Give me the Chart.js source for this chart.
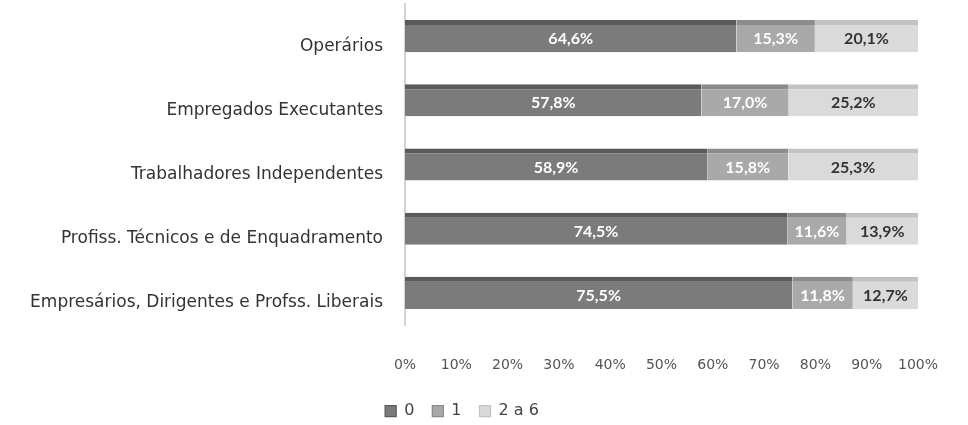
<!DOCTYPE html>
<html lang="pt">
<head>
<meta charset="UTF-8">
<title>Número de filhos por grupo socioprofissional</title>
<script src="https://cdn.jsdelivr.net/npm/chart.js"></script>
<style>
  html, body { margin: 0; padding: 0; background: #fff; }
  #wrap { width: 968px; height: 425px; }
</style>
</head>
<body>
<div id="wrap"><canvas id="grafico" width="968" height="425"></canvas></div>
<script>
const categorias = [
  "Operários",
  "Empregados Executantes",
  "Trabalhadores Independentes",
  "Profiss. Técnicos e de Enquadramento",
  "Empresários, Dirigentes e Profss. Liberais"
];
const serieNomes = ["0", "1", "2 a 6"];
const valores0 = [64.6, 57.8, 58.9, 74.5, 75.5];
const valores1 = [15.3, 17.0, 15.8, 11.6, 11.8];
const valores2 = [20.1, 25.2, 25.3, 13.9, 12.7];

const cores = ["#7b7b7b", "#a9a9a9", "#dadada"];
const coresTopo = ["#5a5a5a", "#8c8c8c", "#c2c2c2"];
const coresTexto = ["#ffffff", "#ffffff", "#333333"];

const fmt = v => v.toFixed(1).replace(".", ",") + "%";

// rótulos dentro das barras
const rotulos = {
  id: "rotulos",
  afterDatasetsDraw(chart) {
    const ctx = chart.ctx;
    ctx.save();
    ctx.font = "bold 16px Lato, 'Open Sans', sans-serif";
    ctx.textAlign = "center";
    ctx.textBaseline = "middle";
    chart.data.datasets.forEach((ds, i) => {
      chart.getDatasetMeta(i).data.forEach((bar, j) => {
        const x = (bar.x + bar.base) / 2;
        ctx.fillStyle = coresTexto[i];
        ctx.fillText(fmt(ds.data[j]), x, bar.y + 3);
      });
    });
    ctx.restore();
  }
};

const series = [valores0, valores1, valores2].map((d, i) => ({
  label: serieNomes[i],
  data: d,
  backgroundColor: cores[i],
  borderColor: coresTopo[i],
  borderWidth: { top: 5, bottom: 0, left: 0, right: 0 },
  borderSkipped: false,
  barPercentage: 0.5,
  categoryPercentage: 1
}));

new Chart(document.getElementById("grafico"), {
  type: "bar",
  data: { labels: categorias, datasets: series },
  options: {
    indexAxis: "y",
    responsive: false,
    animation: false,
    layout: { padding: { left: 6, right: 50, top: 4, bottom: -4 } },
    scales: {
      x: {
        stacked: true,
        min: 0,
        max: 100,
        afterFit(scale) {
          scale.height = 60;
          scale.paddingLeft = 0;
          scale.paddingRight = 0;
        },
        ticks: {
          stepSize: 10,
          padding: 32,
          color: "#555",
          font: { family: "'DejaVu Sans', sans-serif", size: 14 },
          callback: v => v + "%"
        },
        grid: { display: false, drawTicks: false },
        border: { display: false }
      },
      y: {
        stacked: true,
        afterFit(scale) {
          scale.width = 399;
          scale.paddingTop = 0;
          scale.paddingBottom = 0;
        },
        ticks: {
          padding: 22,
          labelOffset: 10,
          color: "#333",
          font: { family: "'DejaVu Sans', sans-serif", size: 17 }
        },
        grid: { display: false, drawTicks: false },
        border: { display: true, color: "#d4d4d4", width: 2 }
      }
    },
    plugins: {
      legend: {
        position: "bottom",
        labels: {
          boxWidth: 11,
          boxHeight: 11,
          padding: 18,
          color: "#444",
          font: { family: "'DejaVu Sans', sans-serif", size: 16 }
        }
      },
      tooltip: { enabled: false }
    }
  },
  plugins: [rotulos]
});
</script>
</body>
</html>
